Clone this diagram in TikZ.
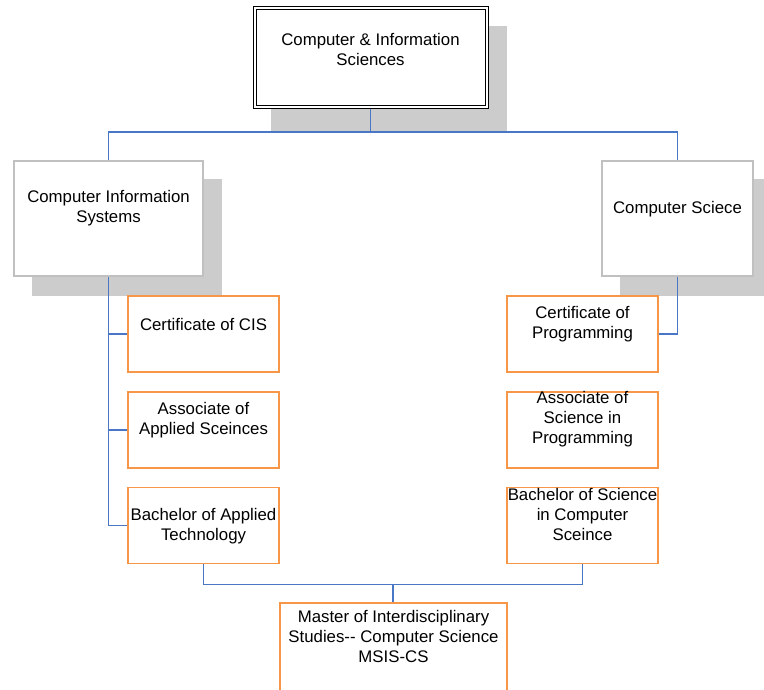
\documentclass[tikz,border=0pt]{standalone}
\usepackage{fontspec}
\setmainfont{Liberation Sans}
\definecolor{connblue}{HTML}{4A76C6}
\definecolor{boxorange}{HTML}{F79646}
\definecolor{boxgray}{HTML}{C0C0C0}
\definecolor{shadowgray}{HTML}{CCCCCC}
\begin{document}
\begin{tikzpicture}[x=1pt,y=-1pt,
  every node/.style={outer sep=0pt, inner sep=0pt},
  conn/.style={draw=connblue, line width=1.6pt},
  shadowbox/.style={fill=shadowgray},
  topbox/.style={draw=black, fill=white, double, double distance=2pt, line width=1pt, rectangle},
  graybox/.style={draw=boxgray, fill=white, line width=1.5pt, rectangle},
  orangebox/.style={draw=boxorange, fill=white, line width=1.6pt, rectangle, minimum width=151pt, minimum height=76pt},
  txt/.style={align=center, font=\fontsize{16.8}{20}\selectfont, text=black}
]
\useasboundingbox (0,0) rectangle (764,690);
\clip (0,0) rectangle (764,690);
\fill[white] (0,0) rectangle (764,690);

% shadows
\fill[shadowgray] (271,26) rectangle (507,131);
\fill[shadowgray] (32,179) rectangle (222,296);
\fill[shadowgray] (620,179) rectangle (771,296);

% boxes (positions only, drawn later)
\path
  node[topbox, minimum width=232pt, minimum height=99pt] (top) at (370.5,58) {}
  node[graybox, minimum width=189pt, minimum height=115pt] (cis) at (108.5,218.5) {}
  node[graybox, minimum width=151pt, minimum height=115pt] (cs) at (677.5,218.5) {}
  node[orangebox] (c1) at (203.5,334) {}
  node[orangebox] (c2) at (203.5,430) {}
  node[orangebox] (c3) at (203.5,525.5) {}
  node[orangebox] (p1) at (582.5,334) {}
  node[orangebox] (p2) at (582.5,430) {}
  node[orangebox] (p3) at (582.5,525.5) {}
  node[orangebox, minimum width=227pt, minimum height=120pt] (ms) at (393.5,663) {};

% connectors
\coordinate (hub) at (370.5,132);
\coordinate (j) at (393,584.5);
\draw[conn] (top.south) -- (hub);
\draw[conn] (cis.north) |- (hub) -| (cs.north);
\draw[conn] (cis.south) -- (cis.south |- c3.west) -- (c3.west);
\draw[conn] (cis.south |- c1.west) -- (c1.west);
\draw[conn] (cis.south |- c2.west) -- (c2.west);
\draw[conn] (cs.south) |- (p1.east);
\draw[conn] (c3.south) |- (j) -| (p3.south);
\draw[conn] (j) -- (j |- ms.north);

% boxes drawn on top
\node[topbox, minimum width=232pt, minimum height=99pt] at (top) {};
\node[graybox, minimum width=189pt, minimum height=115pt] at (cis) {};
\node[graybox, minimum width=151pt, minimum height=115pt] at (cs) {};
\foreach \b in {c1,c2,c3,p1,p2,p3} { \node[orangebox] at (\b) {}; }
\node[orangebox, minimum width=227pt, minimum height=120pt] at (ms) {};

% texts
\node[txt] (top-t) at (370.5,49) {Computer \& Information\\Sciences};
\node[txt] (cis-t) at (108.5,208.5) {Computer Information\\Systems};
\node[txt] (cs-t) at (677.5,209) {Computer Sciece};
\node[txt] (c1-t) at (203.5,324) {Certificate of CIS};
\node[txt] (c2-t) at (203.5,420) {Associate of\\Applied Sceinces};
\node[txt] (c3-t) at (203.5,526) {Bachelor of Applied\\Technology};
\node[txt] (p1-t) at (582.5,324) {Certificate of\\Programming};
\node[txt] (p2-t) at (582.5,419) {Associate of\\Science in\\Programming};
\node[txt] (p3-t) at (582.5,514) {Bachelor of Science\\in Computer\\Sceince};
\node[txt] (ms-t) at (393.5,636) {Master of Interdisciplinary\\Studies-{}- Computer Science\\MSIS-CS};
\end{tikzpicture}
\end{document}
